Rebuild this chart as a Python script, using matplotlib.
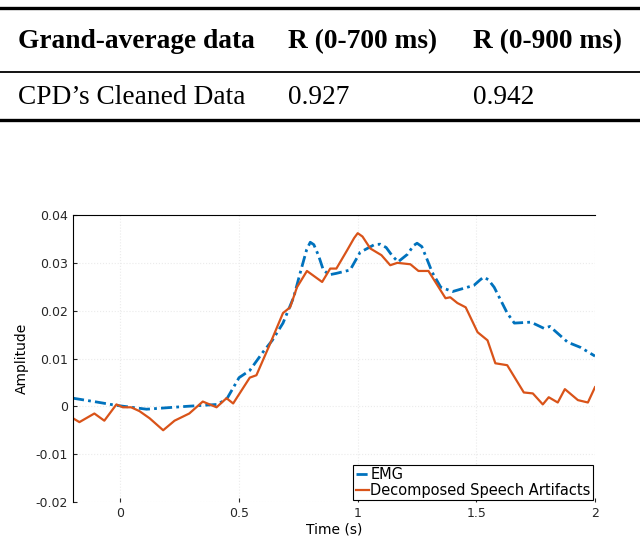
import numpy as np
import matplotlib.pyplot as plt

# table content
col_heads = ['Grand-average data', 'R (0-700 ms)', 'R (0-900 ms)']
row_vals = ["CPD\u2019s Cleaned Data", '0.927', '0.942']

# EMG curve
emg_t = [-0.2, -0.1, -0.017, 0.11, 0.28, 0.41, 0.45, 0.50, 0.545, 0.60, 0.64, 0.685, 0.73,
         0.757, 0.785, 0.80, 0.815, 0.835, 0.855, 0.88, 0.91, 0.968, 1.01, 1.04, 1.07, 1.095,
         1.12, 1.145, 1.17, 1.21, 1.235, 1.25, 1.27, 1.29, 1.314, 1.35, 1.40, 1.49, 1.515, 1.53,
         1.55, 1.575, 1.63, 1.66, 1.73, 1.785, 1.81, 1.885, 1.94, 2.0]
emg_a = [0.0017, 0.0009, 0.0002, -0.0006, 0.0, 0.0004, 0.0017, 0.006, 0.0075, 0.0113, 0.0138,
         0.0174, 0.0228, 0.0278, 0.0328, 0.0343, 0.0338, 0.0315, 0.0285, 0.0275, 0.0278, 0.0285,
         0.0322, 0.033, 0.0338, 0.0339, 0.0332, 0.0315, 0.0302, 0.0318, 0.0336, 0.0341, 0.0334,
         0.031, 0.028, 0.0249, 0.024, 0.0253, 0.0264, 0.027, 0.0265, 0.0249, 0.0195, 0.0174,
         0.0176, 0.0163, 0.0167, 0.0134, 0.0123, 0.0105]

# decomposed speech artifacts
art_t = [-0.2, -0.173, -0.11, -0.068, -0.017, 0.01, 0.045, 0.08, 0.123, 0.18, 0.228, 0.29,
         0.347, 0.405, 0.447, 0.475, 0.545, 0.573, 0.63, 0.685, 0.715, 0.744, 0.786, 0.85,
         0.884, 0.91, 0.955, 0.985, 1.0, 1.02, 1.053, 1.10, 1.137, 1.167, 1.222, 1.256, 1.298,
         1.336, 1.37, 1.39, 1.42, 1.455, 1.505, 1.547, 1.58, 1.63, 1.70, 1.738, 1.78, 1.805,
         1.843, 1.873, 1.928, 1.97, 2.0]
art_a = [-0.0025, -0.0033, -0.0015, -0.003, 0.0004, -0.0002, -0.0002, -0.001, -0.0025, -0.005,
         -0.003, -0.0015, 0.001, -0.0002, 0.0017, 0.0006, 0.006, 0.0065, 0.013, 0.0195, 0.0207,
         0.0249, 0.0283, 0.026, 0.0288, 0.0288, 0.0326, 0.0352, 0.0362, 0.0355, 0.033, 0.0316,
         0.0295, 0.030, 0.0297, 0.0283, 0.0283, 0.0253, 0.0226, 0.0228, 0.0216, 0.0207, 0.0155,
         0.0138, 0.009, 0.0086, 0.0029, 0.0027, 0.0004, 0.0019, 0.0008, 0.0036, 0.0013, 0.0008,
         0.004]

xticks = [0, 0.5, 1, 1.5, 2]
yticks = [-0.02, -0.01, 0, 0.01, 0.02, 0.03, 0.04]
ytick_labels = ['-0.02', '-0.01', '0', '0.01', '0.02', '0.03', '0.04']

fig = plt.figure(figsize=(6.4, 5.4), dpi=100)

# table drawn with figure coordinates (y measured from top in pixels)
W, H = 640, 540
def fy(py):
    return 1 - py / H

serif = ['Liberation Serif', 'DejaVu Serif']
for py, lw in [(8, 2.4), (72, 1.3), (120, 2.4)]:
    fig.add_artist(plt.Line2D([0, 1], [fy(py), fy(py)], color='black', lw=lw))
col_x = [18, 288, 473]
for x, s in zip(col_x, col_heads):
    fig.text(x / W, fy(42), s, family=serif, weight='bold', fontsize=19.7, va='center', ha='left')
for x, s in zip(col_x, row_vals):
    fig.text(x / W, fy(97), s, family=serif, fontsize=19.7, va='center', ha='left')

# plot
ax = fig.add_axes([73 / W, 1 - 502 / H, (595 - 73) / W, (502 - 215) / H])
ax.plot(emg_t, emg_a, color='#0072BD', lw=2, ls=(0, (4, 1.5, 1, 1.5)), label='EMG')
ax.plot(art_t, art_a, color='#D95319', lw=1.6, label='Decomposed Speech Artifacts')

ax.set_xlim(-0.2, 2)
ax.set_ylim(-0.02, 0.04)
ax.set_xticks(xticks)
ax.set_xticklabels(['0', '0.5', '1', '1.5', '2'])
ax.set_yticks(yticks)
ax.set_yticklabels(ytick_labels)
ax.tick_params(direction='in', length=3, labelsize=9, colors='#262626')
ax.grid(True, ls=':', color='#ebebeb', lw=0.8)
ax.spines['right'].set_visible(False)
ax.spines['bottom'].set_visible(False)
ax.set_xlabel('Time (s)', fontsize=10, labelpad=2)
ax.set_ylabel('Amplitude', fontsize=10, labelpad=5)

leg = ax.legend(loc='lower right', fontsize=10.5, handlelength=0.9, handletextpad=0.1,
                borderpad=0.15, labelspacing=0.05, borderaxespad=0.15, fancybox=False,
                framealpha=1)
leg.get_frame().set_edgecolor('black')
leg.get_frame().set_linewidth(0.8)

fig.savefig('out.png', dpi=100)
